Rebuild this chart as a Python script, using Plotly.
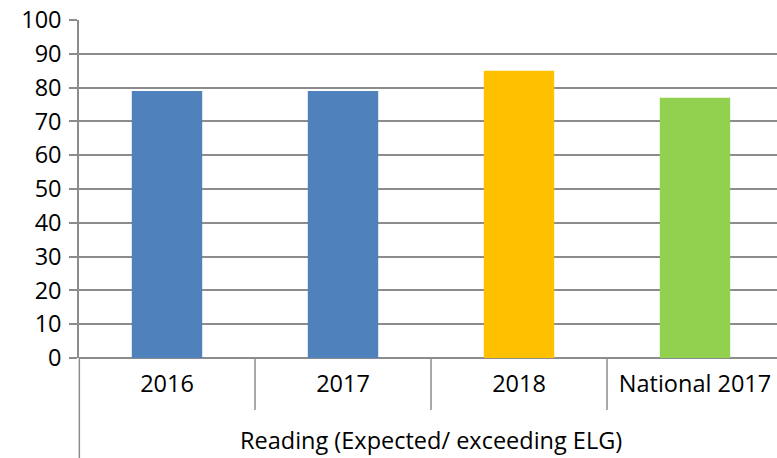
import plotly.graph_objects as go

categories = ["2016", "2017", "2018", "National 2017"]
values = [79, 79, 85, 77]
group_label = "Reading (Expected/ exceeding ELG)"
y_ticks = [0, 10, 20, 30, 40, 50, 60, 70, 80, 90, 100]

bar_colors = ["#4F81BD", "#4F81BD", "#FFC000", "#92D050"]
axis_gray = "#8C8C8C"
font_family = "Open Sans, Noto Sans, sans-serif"
fs = 23.5

W, H = 777, 458
mt, mb, ml = 20, 100, 79
plot_h = H - mt - mb

fig = go.Figure()
fig.add_trace(go.Bar(
    x=categories, y=values, marker=dict(color=bar_colors, line=dict(width=0)),
    width=0.4, showlegend=False, hoverinfo="x+y",
))

cat_px = 176.0
x_right = 3.5 - (ml + 4 * cat_px - W) / cat_px

shapes = []
shapes.append(dict(type="line", xref="paper", yref="paper", x0=0.0005, x1=0.0005,
                   y0=0, y1=-mb / plot_h, line=dict(color=axis_gray, width=1.5)))
for i in range(1, len(categories)):
    shapes.append(dict(type="line", xref="x", yref="paper", x0=i - 0.5, x1=i - 0.5,
                       y0=0, y1=-52 / plot_h, line=dict(color=axis_gray, width=1.5)))

fig.update_layout(
    width=W, height=H,
    margin=dict(l=ml, r=0, t=mt, b=mb, pad=0),
    plot_bgcolor="white", paper_bgcolor="white",
    font=dict(family=font_family, size=fs, color="black"),
    shapes=shapes,
    annotations=[dict(text=group_label, xref="paper", yref="paper",
                      x=(4 * cat_px / 2) / (W - ml), y=-(440 - 358) / plot_h,
                      xanchor="center", yanchor="middle", showarrow=False,
                      font=dict(family=font_family, size=fs, color="black"))],
    xaxis=dict(range=[-0.5, x_right], showgrid=False, zeroline=False,
               showline=False, ticks="", tickfont=dict(size=fs),
               ticklabelstandoff=9),
    yaxis=dict(range=[0, 100], tickvals=y_ticks, showgrid=True, gridcolor=axis_gray,
               gridwidth=1.5, zeroline=True, zerolinecolor=axis_gray, zerolinewidth=1.5,
               showline=True, linecolor=axis_gray, linewidth=1.5,
               ticks="outside", ticklen=8, tickcolor=axis_gray, tickwidth=1.5,
               tickfont=dict(size=fs), ticklabelstandoff=3, automargin=False),
    bargap=0.6,
)

fig.write_html("out.html", config={"displayModeBar": False},
               post_script="document.body.style.margin='0';document.body.style.overflow='hidden';")
